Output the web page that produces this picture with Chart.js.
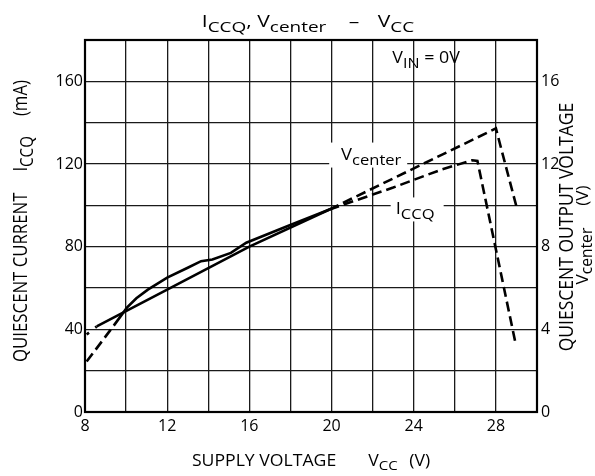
<!DOCTYPE html>
<html>
<head>
<meta charset="utf-8">
<script src="https://cdn.jsdelivr.net/npm/chart.js@4"></script>
<style>
  html, body { margin: 0; padding: 0; background: #fff; }
  #wrap { width: 595px; height: 476px; }
</style>
</head>
<body>
<div id="wrap"><canvas id="c" width="595" height="476"></canvas></div>
<script>
// データ
const vccIccq = [8.08, 9.4, 10.04, 10.5, 11.06, 12.0, 13.0, 13.65, 14.2, 15.1, 15.85, 17.87, 19.9, 23.0, 25.4, 26.85, 27.1, 28.95];
const iccq    = [24.4, 41.8, 50.5, 55.0, 59.2, 65.0, 69.8, 73.0, 73.8, 77.0, 81.9, 90.0, 98.0, 108.6, 117.5, 121.8, 121.5, 33.5]; // mA

const vccVcenter = [8.08, 8.57, 12.0, 16.0, 19.9, 28.0, 29.05];
const vcenter    = [3.75, 4.14, 5.92, 8.0, 9.8, 13.72, 9.75]; // V

const xTicks  = [8, 12, 16, 20, 24, 28];
const yTicks  = [0, 40, 80, 120, 160];
const y2Ticks = [0, 4, 8, 12, 16];

const FONT = "'Open Sans', 'DejaVu Sans', sans-serif";
const DASH = [10, 5];

// 文字列＋下付き文字を描く（数値は空白ピクセル、sxは横方向の伸び）
function drawRich(ctx, runs, x, y, size, angle, sub, sx, subDrop) {
  const ss = sub || 0.9;
  const drop = subDrop === undefined ? 0.3 : subDrop;
  const fontOf = r => (r[1] ? size * ss : size) + 'px ' + FONT;
  ctx.save();
  ctx.translate(x, y);
  ctx.scale(sx || 1, 1);
  ctx.rotate(angle || 0);
  ctx.textBaseline = 'alphabetic';
  ctx.textAlign = 'left';
  ctx.fillStyle = '#000';
  let w = 0;
  runs.forEach(r => {
    if (typeof r === 'number') { w += r; return; }
    ctx.font = fontOf(r);
    w += ctx.measureText(r[0]).width;
  });
  let cx = -w / 2;
  runs.forEach(r => {
    if (typeof r === 'number') { cx += r; return; }
    ctx.font = fontOf(r);
    ctx.fillText(r[0], cx, size * 0.36 + (r[1] ? size * drop : 0));
    cx += ctx.measureText(r[0]).width;
  });
  ctx.restore();
}

const textPlugin = {
  id: 'texts',
  beforeDatasetsDraw(chart) {
    const ctx = chart.ctx;
    const xs = chart.scales.x, ys = chart.scales.y;
    // 図中ラベル（白抜き背景）
    const labels = [
      { runs: [['V', 0], ['center', 1]], vx: 21.93, vy: 124.8, bx: -3, w: 78, h: 25, size: 16 },
      { runs: [['I', 0], ['CCQ', 1]], vx: 24.07, vy: 98.5, bx: 2, w: 53, h: 24, size: 16 },
      { runs: [['V', 0], ['IN', 1], [' = 0V', 0]], vx: 24.6, vy: 171.4, bx: 0, w: 0, h: 0, size: 15.5 }
    ];
    labels.forEach(b => {
      const px = xs.getPixelForValue(b.vx), py = ys.getPixelForValue(b.vy);
      if (b.w) {
        ctx.fillStyle = '#fff';
        ctx.fillRect(px + b.bx - b.w / 2, py + 1 - b.h / 2, b.w, b.h);
      }
      drawRich(ctx, b.runs, px, py, b.size, 0, 0.9, 1.15);
    });
  },
  afterDraw(chart) {
    const ctx = chart.ctx;
    const a = chart.chartArea;
    ctx.save();
    ctx.strokeStyle = '#000';
    ctx.lineWidth = 2.2;
    ctx.strokeRect(a.left, a.top, a.right - a.left, a.bottom - a.top);
    ctx.restore();
    const up = -Math.PI / 2;
    // タイトル・軸タイトル
    drawRich(ctx, [['I', 0], ['CCQ', 1], [', V', 0], ['center', 1], 18, ['–', 0], 15, ['V', 0], ['CC', 1]], 308, 21, 17, 0, 0.9, 1.24);
    drawRich(ctx, [['SUPPLY VOLTAGE', 0], 28, ['V', 0], ['CC', 1], 10, ['(V)', 0]], 311, 460, 15.4, 0, 0.85, 1.146);
    drawRich(ctx, [['QUIESCENT CURRENT', 0], 21, ['I', 0], ['CCQ', 1], 20, ['(mA)', 0]], 20, 221, 16.8, up, 0.9, 1.17);
    drawRich(ctx, [['QUIESCENT OUTPUT VOLTAGE', 0]], 566, 227, 17.5, up, 0.9, 1.1);
    drawRich(ctx, [['V', 0], ['center', 1], 22, ['(V)', 0]], 582, 235, 17, up, 0.92, 1.0, 0.2);
  }
};

const dashAfter20 = c => (c.p0.parsed.x >= 19.85 ? DASH : undefined);

new Chart(document.getElementById('c'), {
  type: 'line',
  data: {
    datasets: [
      {
        label: 'ICCQ',
        data: vccIccq.map((v, i) => ({ x: v, y: iccq[i] })),
        yAxisID: 'y',
        borderColor: '#000',
        borderWidth: 2.6,
        pointRadius: 0,
        tension: 0,
        segment: { borderDash: c => (c.p1.parsed.x <= 9.4 ? DASH : dashAfter20(c)) }
      },
      {
        label: 'Vcenter',
        data: vccVcenter.map((v, i) => ({ x: v, y: vcenter[i] })),
        yAxisID: 'y2',
        borderColor: '#000',
        borderWidth: 2.6,
        pointRadius: 0,
        tension: 0,
        segment: { borderDash: c => (c.p1.parsed.x <= 8.57 ? [3, 8] : dashAfter20(c)) }
      }
    ]
  },
  options: {
    responsive: false,
    animation: false,
    layout: { padding: { top: 40, left: 0, right: 0, bottom: 0 } },
    plugins: { legend: { display: false }, title: { display: false }, tooltip: { enabled: false } },
    scales: {
      x: {
        type: 'linear', min: 8, max: 30,
        afterFit: s => { s.height = 64; },
        grid: { color: '#1a1a1a', lineWidth: 1.3, drawTicks: false },
        border: { color: '#000', width: 2 },
        ticks: {
          stepSize: 2, padding: 5, color: '#000', font: { family: FONT, size: 16 },
          maxRotation: 0, autoSkip: false,
          callback: v => (xTicks.includes(v) ? String(v) : '')
        }
      },
      y: {
        min: 0, max: 180, position: 'left',
        afterFit: s => { s.width = 85; },
        grid: { color: '#1a1a1a', lineWidth: 1.3, drawTicks: false },
        border: { color: '#000', width: 2 },
        ticks: {
          stepSize: 20, padding: 2, color: '#000', font: { family: FONT, size: 16 },
          autoSkip: false,
          callback: v => (yTicks.includes(v) ? String(v) : '')
        }
      },
      y2: {
        min: 0, max: 18, position: 'right',
        afterFit: s => { s.width = 58; },
        grid: { display: false, drawTicks: false },
        border: { color: '#000', width: 2 },
        ticks: {
          stepSize: 2, padding: 4, color: '#000', font: { family: FONT, size: 16 },
          autoSkip: false,
          callback: v => (y2Ticks.includes(v) ? String(v) : '')
        }
      }
    }
  },
  plugins: [textPlugin]
});
</script>
</body>
</html>
